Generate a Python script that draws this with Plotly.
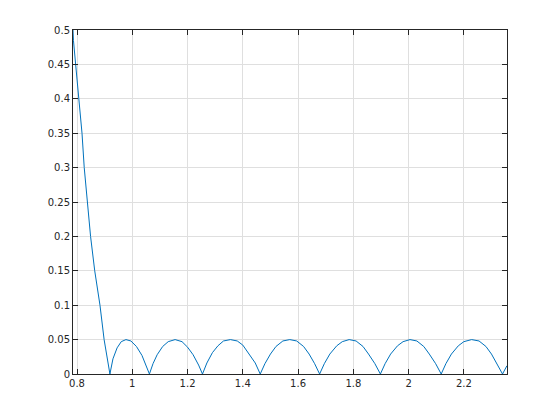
import plotly.graph_objects as go

# curve
x_vals = [0.7854, 0.787, 0.795, 0.807, 0.818, 0.826, 0.837, 0.849, 0.864, 0.875, 0.883, 0.898, 0.919,
          0.93, 0.945, 0.96, 0.977, 0.995, 1.015, 1.035, 1.05, 1.062,
          1.075, 1.09, 1.11, 1.13, 1.155, 1.18, 1.20, 1.22, 1.24, 1.254,
          1.27, 1.29, 1.31, 1.33, 1.355, 1.38, 1.40, 1.42, 1.445, 1.463,
          1.48, 1.50, 1.52, 1.545, 1.57, 1.595, 1.62, 1.64, 1.66, 1.678,
          1.695, 1.715, 1.74, 1.76, 1.785, 1.81, 1.835, 1.855, 1.878, 1.898,
          1.915, 1.935, 1.96, 1.98, 2.005, 2.03, 2.055, 2.075, 2.098, 2.118,
          2.135, 2.155, 2.18, 2.20, 2.228, 2.255, 2.28, 2.30, 2.322, 2.340, 2.356]
y_vals = [0.5, 0.485, 0.45, 0.40, 0.35, 0.30, 0.25, 0.20, 0.15, 0.12, 0.10, 0.05, 0.0,
          0.022, 0.038, 0.047, 0.05, 0.048, 0.04, 0.027, 0.013, 0.0,
          0.015, 0.028, 0.04, 0.047, 0.05, 0.047, 0.039, 0.028, 0.013, 0.0,
          0.016, 0.031, 0.041, 0.048, 0.05, 0.048, 0.042, 0.031, 0.016, 0.0,
          0.015, 0.029, 0.04, 0.048, 0.05, 0.048, 0.04, 0.029, 0.015, 0.0,
          0.015, 0.029, 0.041, 0.047, 0.05, 0.048, 0.04, 0.029, 0.015, 0.0,
          0.015, 0.029, 0.041, 0.047, 0.05, 0.048, 0.04, 0.029, 0.015, 0.0,
          0.015, 0.029, 0.041, 0.047, 0.05, 0.048, 0.04, 0.029, 0.014, 0.0, 0.012]

x_ticks = [0.8, 1.0, 1.2, 1.4, 1.6, 1.8, 2.0, 2.2]
x_labels = ["0.8", "1", "1.2", "1.4", "1.6", "1.8", "2", "2.2"]
y_ticks = [0, 0.05, 0.1, 0.15, 0.2, 0.25, 0.3, 0.35, 0.4, 0.45, 0.5]
y_labels = ["0", "0.05", "0.1", "0.15", "0.2", "0.25", "0.3", "0.35", "0.4", "0.45", "0.5"]

fig = go.Figure(go.Scatter(x=x_vals, y=y_vals, mode="lines",
                           line=dict(color="#0072BD", width=1)))

axis_style = dict(showline=True, linecolor="#262626", linewidth=1, mirror="ticks",
                  ticks="inside", ticklen=5, tickcolor="#262626",
                  showgrid=True, gridcolor="#dfdfdf", gridwidth=1, zeroline=False,
                  tickfont=dict(family="DejaVu Sans", size=10, color="#262626"))

fig.update_xaxes(range=[0.7854, 2.3562], tickvals=x_ticks, ticktext=x_labels, **axis_style)
fig.update_yaxes(range=[0, 0.5], tickvals=y_ticks, ticktext=y_labels, **axis_style)

# page body adds 8px, so the figure is a bit smaller than the window
fig.update_layout(width=544, height=404, showlegend=False,
                  paper_bgcolor="white", plot_bgcolor="white",
                  margin=dict(l=65, r=45, t=22, b=38))

fig.write_html("out.html")
